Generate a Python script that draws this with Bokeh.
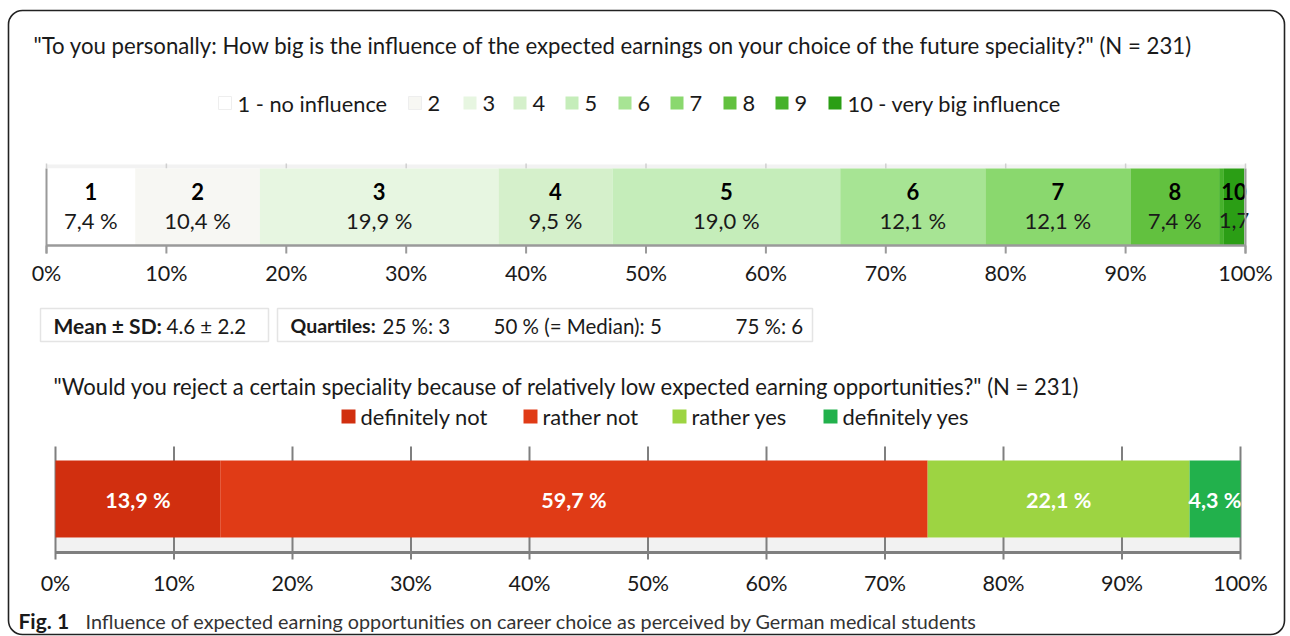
from bokeh.plotting import figure
from bokeh.models import Range1d, BoxAnnotation, ColumnDataSource
from bokeh.core.properties import value
from bokeh.embed import file_html
from bokeh.resources import INLINE
import numpy as np

# ---------------- data ----------------
title_top = '"To you personally: How big is the influence of the expected earnings on your choice of the future speciality?" (N = 231)'
scale_cats = ["1", "2", "3", "4", "5", "6", "7", "8", "9", "10"]
scale_legend = ["1 - no influence", "2", "3", "4", "5", "6", "7", "8", "9", "10 - very big influence"]
scale_pct = [7.4, 10.4, 19.9, 9.5, 19.0, 12.1, 12.1, 7.4, 0.4, 1.7]
scale_colors = ["#ffffff", "#f7f7f3", "#e7f6e1", "#d5f0cb", "#c5edba", "#a7e494", "#8ad86e",
                "#62c13f", "#46b22b", "#2b9e15"]
mean_sd_label = "Mean ± SD:"
mean_sd_value = "4.6 ± 2.2"
quart_label = "Quartiles:"
quart_parts = ["25 %: 3", "50 % (= Median): 5", "75 %: 6"]

title_bot = '"Would you reject a certain speciality because of relatively low expected earning opportunities?" (N = 231)'
answer_cats = ["definitely not", "rather not", "rather yes", "definitely yes"]
answer_pct = [13.9, 59.7, 22.1, 4.3]
answer_colors = ["#d12f0f", "#e03b16", "#9dd442", "#22b14c"]

ticks = [0, 10, 20, 30, 40, 50, 60, 70, 80, 90, 100]
tick_labels = ["0%", "10%", "20%", "30%", "40%", "50%", "60%", "70%", "80%", "90%", "100%"]

caption_bold = "Fig. 1"
caption_text = "Influence of expected earning opportunities on career choice as perceived by German medical students"

# ---------------- layout ----------------
W, H = 1290, 636
FONT = "Lato"
TXT = "#1a1a1a"

p = figure(width=W, height=H, x_range=Range1d(0, W), y_range=Range1d(H, 0),
           min_border=0, toolbar_location=None, output_backend="svg",
           outline_line_color=None, background_fill_color="white")
p.axis.visible = False
p.grid.visible = False


def pct_range(x0, x100):
    k = (x100 - x0) / 100.0
    start = -x0 / k
    return Range1d(start, start + W / k)


p.extra_x_ranges = {"top": pct_range(46, 1245), "bot": pct_range(55, 1240)}

# outer frame
p.add_layout(BoxAnnotation(left=8, right=1284, top=10, bottom=634, border_radius=14,
                           fill_alpha=0, line_color="#222222", line_alpha=1.0, line_width=1.6))


def txt(x, y, t, size, bold=False, align="left", color=TXT, rng="default", baseline="middle"):
    p.text(x=[x], y=[y], text=[t], x_range_name=rng,
           text_font=value(FONT), text_font_size=value(f"{size}px"),
           text_font_style="bold" if bold else "normal",
           text_align=align, text_baseline=baseline, text_color=color)


# ---- top question ----
txt(33, 45, title_top, 22.2)

leg_sq_left = [218, 408, 463, 513, 565, 618, 670, 723, 775, 828]
for xl, lab, col in zip(leg_sq_left, scale_legend, scale_colors):
    p.quad(left=[xl], right=[xl + 13], top=[96], bottom=[109], fill_color=col,
           line_color="#eeeeee" if col in ("#ffffff", "#f7f7f3") else None)
    txt(xl + 19, 103, lab, 21.8)

# top bar
cum = np.cumsum([0] + scale_pct)
left, right = cum[:-1], cum[1:]
mid = (left + right) / 2
src_top = ColumnDataSource(dict(left=left, right=right, mid=mid, color=scale_colors,
                                cat=[c if v >= 1 else "" for c, v in zip(scale_cats, scale_pct)],
                                pct=[(f"{v:.1f}".replace(".", ",") + (" %" if v >= 3 else ""))
                                     if v >= 1 else "" for v in scale_pct]))
# light band + short grid marks above the bar
p.quad(left=[0], right=[100], top=[164], bottom=[168], fill_color="#f2f2f2", line_color=None,
       x_range_name="top")
p.segment(x0=ticks, x1=ticks, y0=[163] * len(ticks), y1=[168] * len(ticks),
          line_color="#d0d0d0", line_width=1.5, x_range_name="top")
p.quad(left="left", right="right", top=168, bottom=245, fill_color="color", line_color=None,
       source=src_top, x_range_name="top")
p.text(x="mid", y=191, text="cat", source=src_top, x_range_name="top",
       text_font=value(FONT), text_font_size=value("22px"), text_font_style="bold",
       text_align="center", text_baseline="middle", text_color="black")
p.text(x="mid", y=220, text="pct", source=src_top, x_range_name="top",
       text_font=value(FONT), text_font_size=value("22px"),
       text_align="center", text_baseline="middle", text_color=TXT)
# edges + axis
p.segment(x0=[0, 100], x1=[0, 100], y0=[168, 168], y1=[253, 253], line_color="#9a9a9a",
          line_width=2, x_range_name="top")
p.segment(x0=[0], x1=[100], y0=[245], y1=[245], line_color="#9a9a9a", line_width=2.5,
          x_range_name="top")
p.segment(x0=ticks, x1=ticks, y0=[245] * len(ticks), y1=[253] * len(ticks),
          line_color="#9a9a9a", line_width=2, x_range_name="top")
p.text(x=ticks, y=[272] * len(ticks), text=tick_labels, x_range_name="top",
       text_font=value(FONT), text_font_size=value("21.5px"),
       text_align="center", text_baseline="middle", text_color=TXT)

# stats boxes
p.quad(left=[40, 277], right=[268, 812], top=[308, 308], bottom=[341, 341],
       fill_color="white", line_color="#e4e4e4", line_width=1.5)
txt(53, 325, mean_sd_label, 21, bold=True)
txt(166, 325, mean_sd_value, 20.5)
txt(290, 325, quart_label, 19.5, bold=True)
for xq, t in zip([382, 493, 735], quart_parts):
    txt(xq, 325, t, 20.5)

# ---- bottom question ----
txt(53, 386, title_bot, 22.1)
leg2_left = [341, 523, 672, 823]
for xl, lab, col in zip(leg2_left, answer_cats, answer_colors):
    p.quad(left=[xl], right=[xl + 14], top=[409], bottom=[423], fill_color=col, line_color=None)
    txt(xl + 19, 416, lab, 21.9)

cum2 = np.cumsum([0] + answer_pct)
src_bot = ColumnDataSource(dict(left=cum2[:-1], right=cum2[1:], mid=(cum2[:-1] + cum2[1:]) / 2,
                                color=answer_colors,
                                pct=[f"{v:.1f}".replace(".", ",") + " %" for v in answer_pct]))
p.quad(left=[0], right=[100], top=[537], bottom=[552], fill_color="#f2f2f2", line_color=None,
       x_range_name="bot")
p.segment(x0=ticks, x1=ticks, y0=[446] * len(ticks), y1=[559] * len(ticks),
          line_color="#7f7f7f", line_width=2, x_range_name="bot")
p.quad(left="left", right="right", top=460, bottom=537, fill_color="color", line_color=None,
       source=src_bot, x_range_name="bot")
p.text(x="mid", y=499, text="pct", source=src_bot, x_range_name="bot",
       text_font=value(FONT), text_font_size=value("21.5px"), text_font_style="bold",
       text_align="center", text_baseline="middle", text_color="white")
p.segment(x0=[0], x1=[100], y0=[552], y1=[552], line_color="#7f7f7f", line_width=3,
          x_range_name="bot")
p.text(x=ticks, y=[582] * len(ticks), text=tick_labels, x_range_name="bot",
       text_font=value(FONT), text_font_size=value("21.5px"),
       text_align="center", text_baseline="middle", text_color=TXT)

# caption
txt(18, 620, caption_bold, 21, bold=True)
txt(85, 620, caption_text, 19.8, color="#333333")

open("out.html", "w").write(file_html(p, INLINE))
